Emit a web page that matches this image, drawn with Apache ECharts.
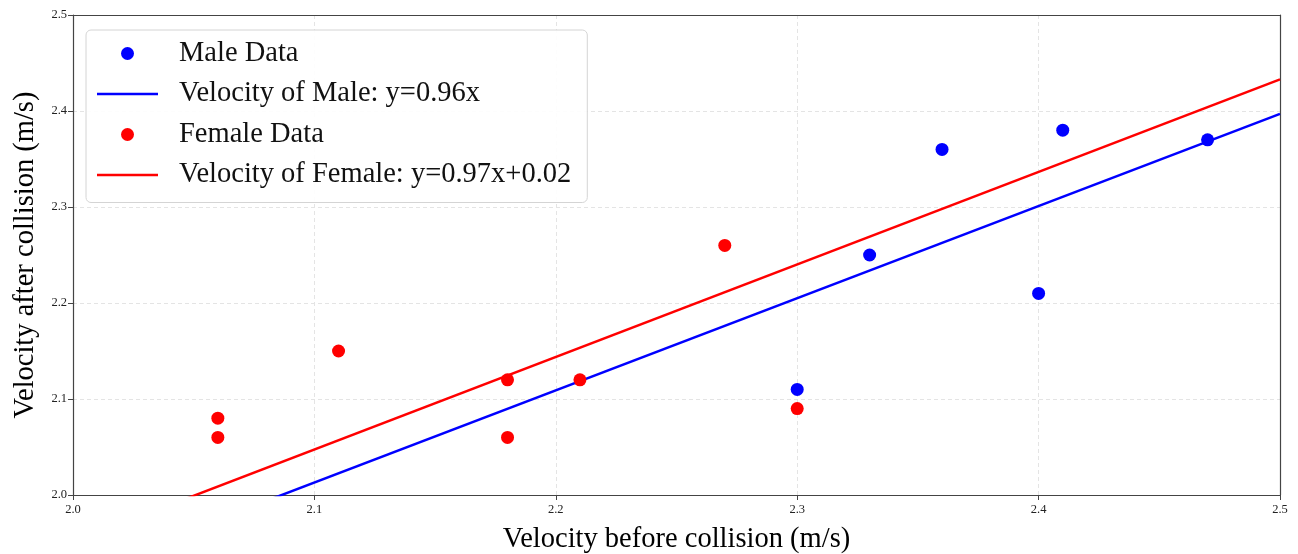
<!DOCTYPE html>
<html>
<head>
<meta charset="utf-8">
<script src="https://cdn.jsdelivr.net/npm/echarts@6/dist/echarts.min.js"></script>
<style>
  html, body { margin: 0; padding: 0; background: #fff; }
  #chart { width: 1298px; height: 554px; }
</style>
</head>
<body>
<div id="chart"></div>
<script>
// points: [before, after]
const maleData = [[2.30, 2.11], [2.33, 2.25], [2.36, 2.36], [2.40, 2.21], [2.41, 2.38], [2.47, 2.37]]
const femaleData = [[2.06, 2.08], [2.06, 2.06], [2.11, 2.15], [2.18, 2.12], [2.18, 2.06], [2.21, 2.12], [2.27, 2.26], [2.30, 2.09]]
// fitted lines, end points at the x limits (clipped by the grid)
const maleLine = [[2.0, 1.917], [2.5, 2.397]]
const femaleLine = [[2.0, 1.951], [2.5, 2.433]]
const xTicks = [2.0, 2.1, 2.2, 2.3, 2.4, 2.5]
const yTicks = [2.0, 2.1, 2.2, 2.3, 2.4, 2.5]

const serif = "'Liberation Serif', 'DejaVu Serif', serif"
const spine = '#444'
const lineIcon = 'path://M0,0L61,0L61,2.5L0,2.5Z'
const chart = echarts.init(document.getElementById('chart'))

const axisCommon = {
    type: 'value',
    min: 2.0,
    max: 2.5,
    interval: 0.1,
    nameLocation: 'middle',
    nameTextStyle: { fontFamily: serif, fontSize: 28.5, color: '#000' },
    axisLine: { show: true, lineStyle: { color: spine, width: 1.2 } },
    axisTick: { show: true, length: 5, lineStyle: { color: spine } },
    splitLine: { show: true, lineStyle: { color: '#e4e4e4', type: [4, 3], width: 1 } },
}
// top and right spines
const frameAxis = {
    type: 'value', min: 2.0, max: 2.5, interval: 0.1,
    axisLine: { show: true, lineStyle: { color: spine, width: 1.2 } },
    axisTick: { show: false }, axisLabel: { show: false }, splitLine: { show: false }
}

chart.setOption({
    animation: false,
    grid: { left: 73, right: 18, top: 15, bottom: 59, outerBoundsMode: 'none', containLabel: false },
    legend: {
        left: 86,
        top: 30,
        orient: 'vertical',
        padding: [9, 16, 13, 11],
        itemWidth: 61,
        itemHeight: 13,
        itemGap: 11.5,
        symbolKeepAspect: true,
        backgroundColor: 'rgba(255,255,255,0.9)',
        borderColor: '#d4d4d4',
        borderWidth: 1,
        borderRadius: 5,
        textStyle: { fontFamily: serif, fontSize: 28.5, color: '#111', lineHeight: 28, padding: [0, 0, 0, 16] },
        data: [
            { name: 'Male Data', icon: 'circle' },
            { name: 'Velocity of Male: y=0.96x', icon: lineIcon },
            { name: 'Female Data', icon: 'circle' },
            { name: 'Velocity of Female: y=0.97x+0.02', icon: lineIcon }
        ]
    },
    xAxis: [
        Object.assign({}, axisCommon, {
            name: 'Velocity before collision (m/s)',
            nameGap: 30,
            axisLabel: {
                fontFamily: serif, fontSize: 12.5, color: '#222', margin: 8,
                formatter: v => xTicks.includes(+v.toFixed(1)) ? v.toFixed(1) : ''
            }
        }),
        Object.assign({ position: 'top' }, frameAxis)
    ],
    yAxis: [
        Object.assign({}, axisCommon, {
            name: 'Velocity after collision (m/s)',
            nameGap: 27,
            axisLabel: {
                fontFamily: serif, fontSize: 12.5, color: '#222', margin: 6,
                formatter: v => yTicks.includes(+v.toFixed(1)) ? v.toFixed(1) : ''
            }
        }),
        Object.assign({ position: 'right' }, frameAxis)
    ],
    series: [
        {
            name: 'Male Data', type: 'scatter', data: maleData,
            symbolSize: 13, itemStyle: { color: '#0000ff', opacity: 1 }, z: 3
        },
        {
            name: 'Velocity of Male: y=0.96x', type: 'line', data: maleLine,
            symbol: 'none', clip: true, lineStyle: { color: '#0000ff', width: 2.5 },
            itemStyle: { color: '#0000ff' }, z: 4
        },
        {
            name: 'Female Data', type: 'scatter', data: femaleData,
            symbolSize: 13, itemStyle: { color: '#ff0000', opacity: 1 }, z: 5
        },
        {
            name: 'Velocity of Female: y=0.97x+0.02', type: 'line', data: femaleLine,
            symbol: 'none', clip: true, lineStyle: { color: '#ff0000', width: 2.5 },
            itemStyle: { color: '#ff0000' }, z: 6
        }
    ]
})
</script>
</body>
</html>
